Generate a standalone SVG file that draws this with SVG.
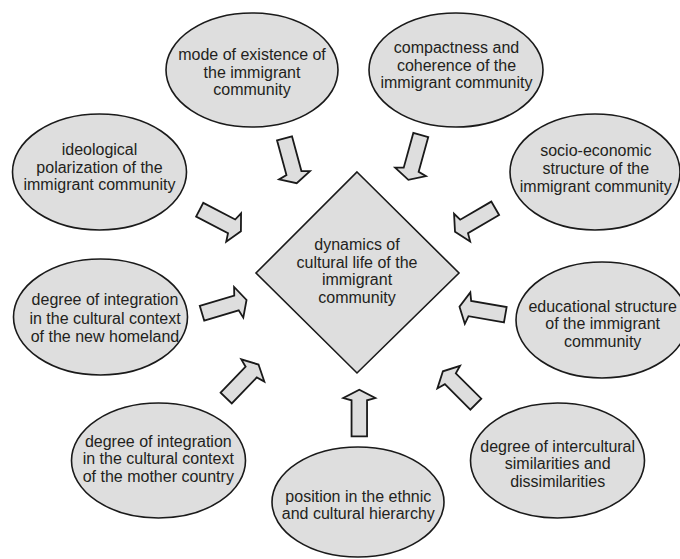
<svg xmlns="http://www.w3.org/2000/svg" width="680" height="559" viewBox="0 0 680 559">
<style>
.n{fill:#dedede;stroke:#1a1a1a;stroke-width:1.6}
.a{fill:#dedede;stroke:#1a1a1a;stroke-width:1.8;stroke-linejoin:miter}
text{font-family:"Liberation Sans",Arial,sans-serif;font-size:16px;fill:#231f20;text-anchor:middle}
</style>
<defs>
<polygon id="arr" class="a" points="0,-7.75 36,-7.75 38.3,-16 46.5,0 38.3,16 36,7.75 0,7.75"/>
</defs>
<rect width="680" height="559" fill="#ffffff"/>
<g id="connectors">
<use href="#arr" transform="translate(284.5,138.3) rotate(74.8)"/>
<use href="#arr" transform="translate(420.8,135) rotate(105.5)"/>
<use href="#arr" transform="translate(199.7,209.7) rotate(27.6)"/>
<use href="#arr" transform="translate(495.2,208.3) rotate(149.8)"/>
<use href="#arr" transform="translate(202,313.3) rotate(-16.7)"/>
<use href="#arr" transform="translate(505.3,314.7) rotate(-170.1)"/>
<use href="#arr" transform="translate(226.2,398) rotate(-46)"/>
<use href="#arr" transform="translate(359.3,436.3) rotate(-90)"/>
<use href="#arr" transform="translate(475.8,404.2) rotate(-135)"/>
</g>
<g id="center">
<polygon class="n" points="357,172 459,273 357,373 256,273"/>
<text x="357" y="250">dynamics of</text>
<text x="357" y="267.7">cultural life of the</text>
<text x="357" y="285.3">immigrant</text>
<text x="357" y="302.7">community</text>
</g>
<g id="mode">
<ellipse class="n" cx="252" cy="70" rx="86" ry="57"/>
<text x="252" y="60">mode of existence of</text>
<text x="252" y="77.5">the immigrant</text>
<text x="252" y="95">community</text>
</g>
<g id="compactness">
<ellipse class="n" cx="456" cy="70" rx="87" ry="57"/>
<text x="456.5" y="53">compactness and</text>
<text x="456.5" y="70.5">coherence of the</text>
<text x="456.5" y="88">immigrant community</text>
</g>
<g id="ideological">
<ellipse class="n" cx="99.5" cy="172" rx="87" ry="58"/>
<text x="99.5" y="155">ideological</text>
<text x="99.5" y="172.7">polarization of the</text>
<text x="99.5" y="190.3">immigrant community</text>
</g>
<g id="socio">
<ellipse class="n" cx="595" cy="172" rx="85" ry="58"/>
<text x="595.8" y="156">socio-economic</text>
<text x="595.8" y="174">structure of the</text>
<text x="595.8" y="191.7">immigrant community</text>
</g>
<g id="newhomeland">
<ellipse class="n" cx="100.5" cy="317" rx="87" ry="58"/>
<text x="105" y="305.3">degree of integration</text>
<text x="105" y="323.5">in the cultural context</text>
<text x="105" y="341.5">of the new homeland</text>
</g>
<g id="educational">
<ellipse class="n" cx="602" cy="320" rx="86" ry="58"/>
<text x="602.7" y="311.7">educational structure</text>
<text x="602.7" y="329.3">of the immigrant</text>
<text x="602.7" y="346.7">community</text>
</g>
<g id="mothercountry">
<ellipse class="n" cx="158.5" cy="460.5" rx="87" ry="57.5"/>
<text x="158.3" y="446.7">degree of integration</text>
<text x="158.3" y="464.3">in the cultural context</text>
<text x="158.3" y="482">of the mother country</text>
</g>
<g id="position">
<ellipse class="n" cx="358" cy="502" rx="86" ry="55"/>
<text x="358.3" y="501.7">position in the ethnic</text>
<text x="358.3" y="518.7">and cultural hierarchy</text>
</g>
<g id="intercultural">
<ellipse class="n" cx="557.5" cy="460.5" rx="87" ry="57.5"/>
<text x="557.7" y="451.7">degree of intercultural</text>
<text x="557.7" y="469.3">similarities and</text>
<text x="557.7" y="486.7">dissimilarities</text>
</g>
</svg>
